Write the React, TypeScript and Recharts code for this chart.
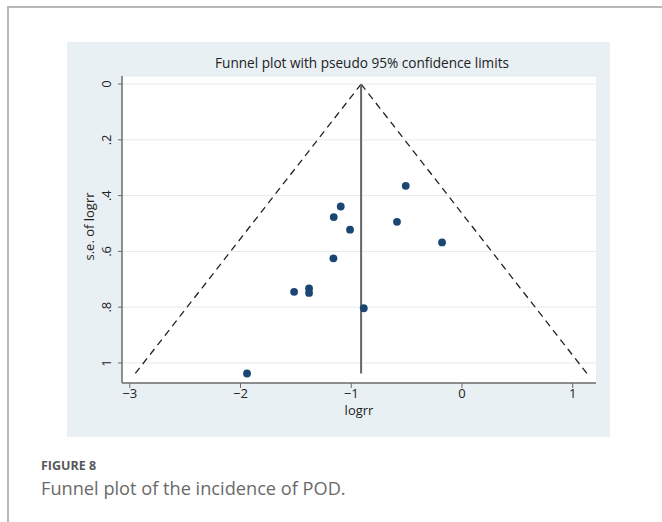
import React from "react";
import {
  CartesianGrid,
  ReferenceLine,
  Scatter,
  ScatterChart,
  XAxis,
  YAxis,
} from "recharts";

const PANEL = "#e8f0f3";
const DOT = "#1b4673";
const AXIS = "#6b6b6b";
const FONT = "'Open Sans', 'Noto Sans', sans-serif";

// log risk ratio and its standard error, one entry per study
const logrr = [-0.508, -1.095, -1.158, -1.011, -0.587, -0.18, -1.161, -1.516, -1.381, -1.381, -0.887, -1.941];
const seLogrr = [0.365, 0.439, 0.477, 0.522, 0.494, 0.568, 0.625, 0.745, 0.733, 0.749, 0.804, 1.038];

// pooled estimate and pseudo 95% limits at the largest s.e.
const pooled = [{ x: -0.911, y: 0 }, { x: -0.911, y: 1.038 }];
const lowerLimit = [{ x: -0.911, y: 0 }, { x: -2.95, y: 1.038 }];
const upperLimit = [{ x: -0.911, y: 0 }, { x: 1.128, y: 1.038 }];

const xTicks = [-3, -2, -1, 0, 1];
const yTicks = [0, 0.2, 0.4, 0.6, 0.8, 1];

const studies = logrr.map((x, i) => ({ x, y: seLogrr[i] }));

const fmtY = (v: number) => (v === 0 || v === 1 ? String(v) : String(v).replace(/^0/, ""));
const fmtX = (v: number) => String(v).replace("-", "\u2212");

function YTick({ x, y, payload }: any) {
  const bx = x - 4.5;
  return (
    <text
      x={bx}
      y={y}
      transform={`rotate(-90 ${bx} ${y})`}
      textAnchor="middle"
      fontSize={13}
      fontFamily={FONT}
      fill="#222"
    >
      {fmtY(payload.value)}
    </text>
  );
}

function Dot({ cx, cy }: any) {
  return <circle cx={cx} cy={cy} r={3.9} fill={DOT} />;
}

export default function App() {
  return (
    <div
      style={{
        position: "absolute",
        left: 0,
        top: 0,
        width: 662,
        height: 522,
        background: "#fff",
        overflow: "hidden",
      }}
    >
      <div style={{ position: "absolute", left: 7, top: 6, width: 655, height: 2, background: "#b8b8b8" }} />
      <div style={{ position: "absolute", left: 7, top: 6, width: 2, height: 516, background: "#b8b8b8" }} />

      <div style={{ position: "absolute", left: 67, top: 42, width: 543, height: 395, background: PANEL }}>
        <div
          style={{
            position: "absolute",
            left: 0,
            top: 13,
            width: 590,
            textAlign: "center",
            fontFamily: FONT,
            fontSize: 13.6,
            lineHeight: "16px",
            color: "#222",
          }}
        >
          Funnel plot with pseudo 95% confidence limits
        </div>
        <ScatterChart width={543} height={395} margin={{ top: 34, right: 14, bottom: 14, left: 0 }}>
          <CartesianGrid fill="#ffffff" vertical={false} stroke="#e3ebee" />
          <XAxis
            type="number"
            dataKey="x"
            domain={[-3.07, 1.21]}
            ticks={xTicks}
            tickFormatter={fmtX}
            allowDataOverflow
            height={40}
            tickSize={5}
            tickMargin={1}
            axisLine={{ stroke: AXIS, strokeWidth: 1.5 }}
            tickLine={{ stroke: AXIS }}
            tick={{ fontSize: 13, fontFamily: FONT, fill: "#222" }}
            label={{
              content: ({ viewBox }: any) => (
                <text
                  x={viewBox.x + viewBox.width / 2}
                  y={viewBox.y + 32}
                  textAnchor="middle"
                  fontSize={13}
                  fontFamily={FONT}
                  fill="#222"
                >
                  logrr
                </text>
              ),
            }}
          />
          <YAxis
            type="number"
            dataKey="y"
            domain={[-0.029, 1.072]}
            reversed
            ticks={yTicks}
            allowDataOverflow
            width={55}
            tickSize={4}
            tickMargin={2}
            axisLine={{ stroke: AXIS, strokeWidth: 1.5 }}
            tickLine={{ stroke: AXIS }}
            tick={<YTick />}
            label={{
              content: ({ viewBox }: any) => {
                const lx = viewBox.x + 27;
                const ly = viewBox.y + viewBox.height / 2 - 3;
                return (
                  <text
                    x={lx}
                    y={ly}
                    transform={`rotate(-90 ${lx} ${ly})`}
                    textAnchor="middle"
                    fontSize={13}
                    fontFamily={FONT}
                    fill="#222"
                  >
                    s.e. of logrr
                  </text>
                );
              },
            }}
          />
          <ReferenceLine segment={lowerLimit} stroke="#222" strokeWidth={1.3} strokeDasharray="7 5" />
          <ReferenceLine segment={upperLimit} stroke="#222" strokeWidth={1.3} strokeDasharray="7 5" />
          <ReferenceLine segment={pooled} stroke="#666" strokeWidth={2} />
          <Scatter data={studies} fill={DOT} shape={<Dot />} isAnimationActive={false} />
        </ScatterChart>
      </div>

      <div
        style={{
          position: "absolute",
          left: 41,
          top: 460,
          fontFamily: FONT,
          fontWeight: 700,
          fontSize: 12.5,
          lineHeight: 1,
          color: "#58595b",
        }}
      >
        FIGURE 8
      </div>
      <div
        style={{
          position: "absolute",
          left: 41,
          top: 479,
          fontFamily: FONT,
          fontSize: 18.2,
          lineHeight: 1,
          color: "#6a6a6a",
        }}
      >
        Funnel plot of the incidence of POD.
      </div>
    </div>
  );
}
